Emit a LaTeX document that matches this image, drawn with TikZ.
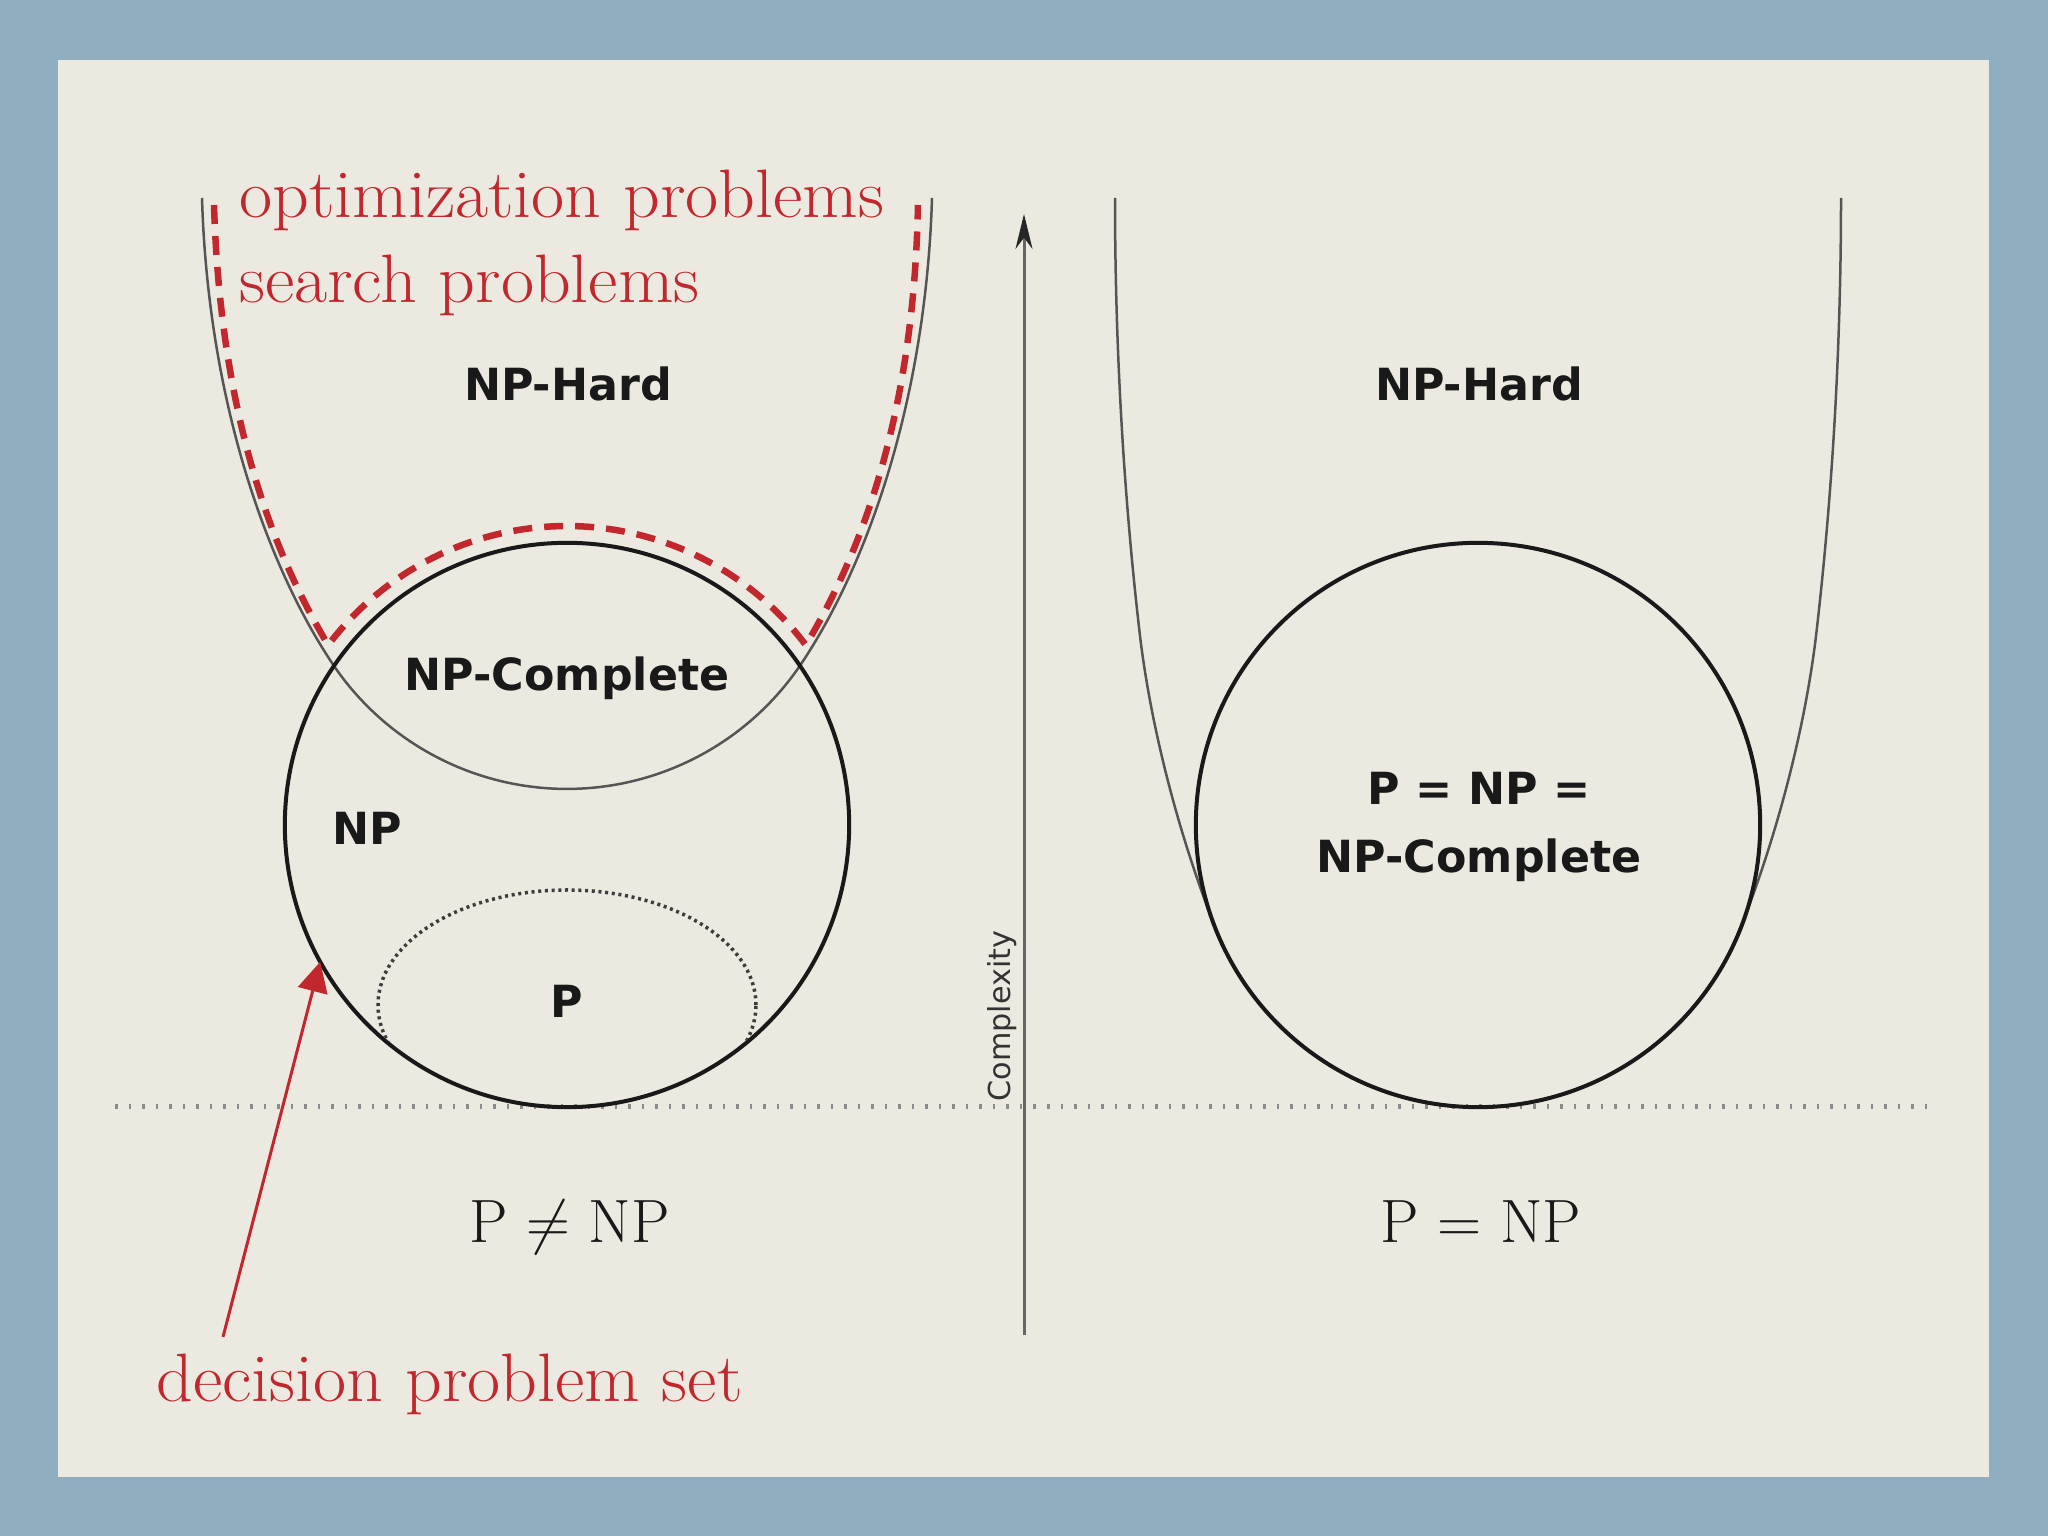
\documentclass[tikz,border=0pt]{standalone}
\usepackage{fontspec}
\newfontfamily\djv{DejaVu Sans}
\usetikzlibrary{arrows.meta}
\definecolor{bgblue}{RGB}{143,174,192}
\definecolor{paper}{RGB}{236,234,224}
\definecolor{redc}{RGB}{193,39,45}
\definecolor{ink}{RGB}{25,25,25}
\definecolor{uline}{RGB}{85,85,85}
\begin{document}
\begin{tikzpicture}[x=0.01cm,y=0.01cm,
  npcirc/.style={circle,draw=ink,line width=0.04cm,minimum size=5.64cm,inner sep=0pt,outer sep=0pt},
  ucurve/.style={draw=uline,line width=0.025cm},
  reddash/.style={draw=redc,line width=0.065cm,dash pattern=on 0.19cm off 0.12cm},
  pdots/.style={draw=ink!85,line width=0.035cm,dash pattern=on 0.03cm off 0.037cm},
  floorline/.style={draw=black!45,line width=0.05cm,dash pattern=on 0.025cm off 0.11cm},
  axisline/.style={draw=black!60,line width=0.03cm,-{Stealth[length=3.5mm,width=1.7mm,color=black!85]}},
  redarrow/.style={draw=redc,line width=0.03cm,-{Triangle[length=3mm,width=3mm]}},
  blacklabel/.style={text=ink,font=\djv\bfseries\fontsize{12.6}{15}\selectfont,inner sep=0pt,anchor=base},
  redlabel/.style={text=redc,font=\fontsize{19.5}{23}\selectfont,xscale=1.05,inner sep=0pt,anchor=base west},
  mathlabel/.style={text=ink,font=\fontsize{17.4}{20}\selectfont,inner sep=0pt,anchor=base}
]
% background and paper
\fill[bgblue] (0,0) rectangle (2048,1536);
\useasboundingbox (0,0) rectangle (2048,1536);
\fill[paper] (58,59) rectangle (1989,1476);

% floor line
\coordinate (floorL) at (115,429);
\coordinate (floorR) at (1937,429);
\draw[floorline] (floorL) -- (floorR);

% left U (NP-Hard)
\draw[ucurve] (202,1338) .. controls (208,1138) and (265.6,973) .. (332,873)
  arc[start angle=213.6,end angle=326.4,radius=282]
  .. controls (868.4,973) and (926,1138) .. (932,1338);

% right U (NP-Hard)
\draw[ucurve] (1115,1338) .. controls (1115,1170) and (1126,1020) .. (1140,900)
  .. controls (1152,800) and (1182.7,689.5) .. (1216.3,606)
  arc[start angle=201.9,end angle=338.1,radius=282]
  .. controls (1773.3,689.5) and (1804,800) .. (1816,900)
  .. controls (1830,1020) and (1841,1170) .. (1841,1338);

% red dashed outline
\draw[reddash] (214,1331) .. controls (220,1136) and (265,996) .. (328.2,890.9)
  arc[start angle=143,end angle=37,radius=299]
  .. controls (869,996) and (914,1136) .. (918,1331);

% circles
\node[npcirc] (np) at (567,711) {};
\node[npcirc] (eq) at (1478,711) {};

% P ellipse, clipped by NP circle
\begin{scope}
  \clip (567,711) circle[radius=280];
  \draw[pdots] (567,531) ellipse[x radius=189,y radius=115];
\end{scope}

% complexity axis
\coordinate (axisbot) at (1024,201);
\coordinate (axistop) at (1024,1322);
\draw[axisline] (axisbot) -- (axistop);
\node[rotate=90,text=black!80,font=\djv\fontsize{8.6}{10}\selectfont,inner sep=0pt] (cx) at (1002,520) {Complexity};

% black labels
\node[blacklabel] (hardL) at (568,1135) {NP-Hard};
\node[blacklabel] (hardR) at (1479,1135) {NP-Hard};
\node[blacklabel] (compL) at (567,845.5) {NP-Complete};
\node[blacklabel] (npL) at (367,691) {NP};
\node[blacklabel] (pL) at (567,518) {P};
\node[blacklabel] (eq1) at (1479,731.3) {P = NP =};
\node[blacklabel] (eq2) at (1479,663.6) {NP-Complete};

% bottom captions
\node[mathlabel] (neq) at (569.5,293.3) {P $\neq$ NP};
\node[mathlabel] (eqcap) at (1481,293.3) {P = NP};

% red labels
\node[redlabel] (opt) at (238.5,1318) {optimization problems};
\node[redlabel] (search) at (238.5,1233.3) {search problems};
\node[redlabel] (dec) at (155.8,134.3) {decision problem set};

% red arrow
\coordinate (arrowstart) at (223,199);
\draw[redarrow] (arrowstart) -- (np.209);
\end{tikzpicture}
\end{document}
